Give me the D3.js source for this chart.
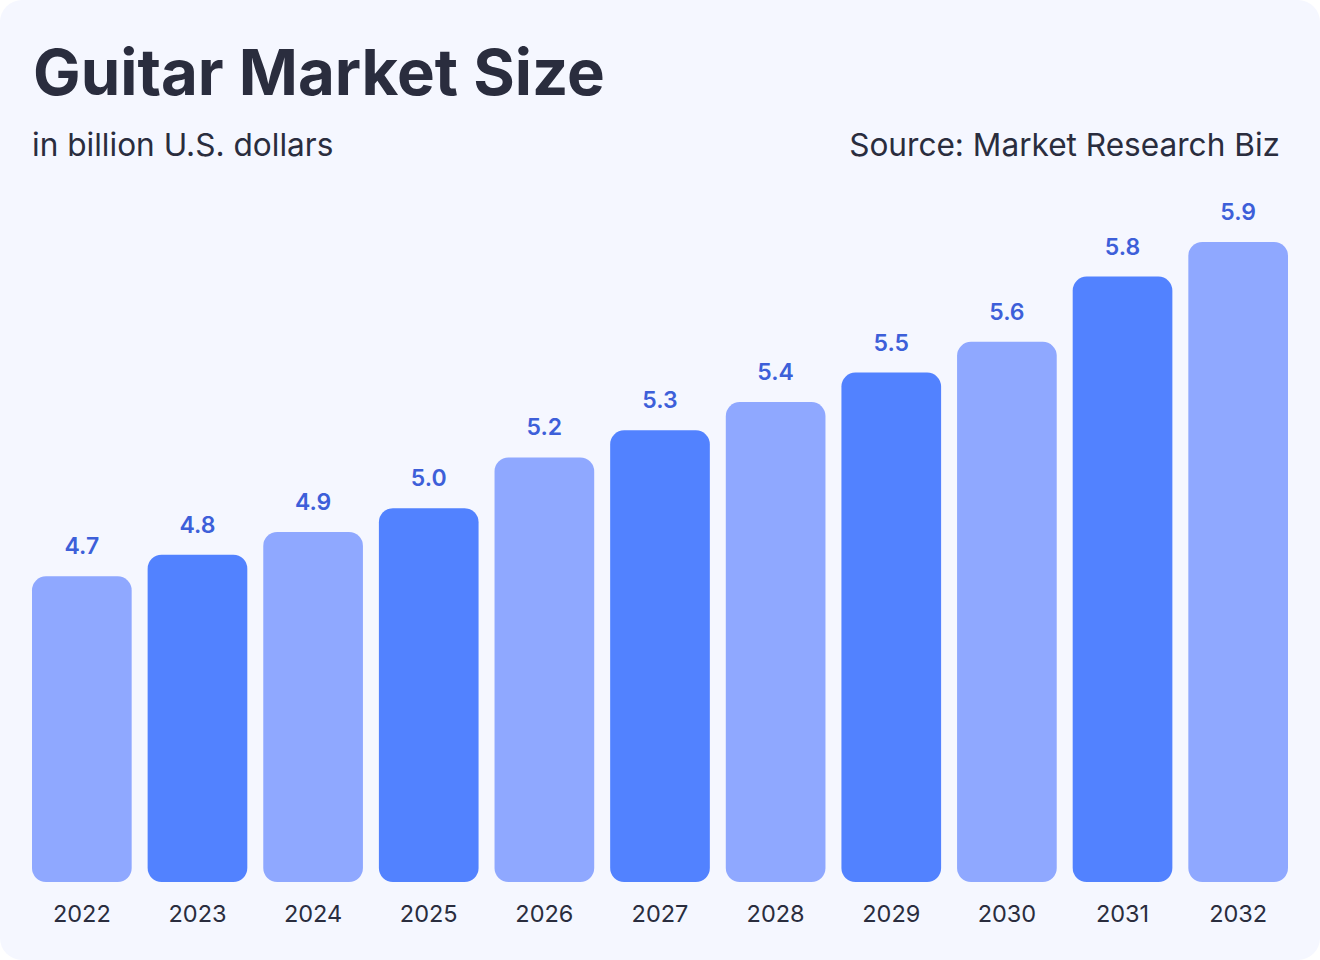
<!DOCTYPE html>
<html><head><meta charset="utf-8">
<script src="https://cdn.jsdelivr.net/npm/d3@7"></script>
<style>
html,body{margin:0;padding:0;background:#ffffff;}
svg{display:block;}
</style></head>
<body>
<svg id="chart" width="1320" height="960"></svg>
<script>
const years = ["2022","2023","2024","2025","2026","2027","2028","2029","2030","2031","2032"];
const marketSize = [4.7,4.8,4.9,5.0,5.2,5.3,5.4,5.5,5.6,5.8,5.9];
const barColors = ["#8fa8ff","#5282ff"];

const W = 1320, H = 960;
const svg = d3.select("#chart");
const font = "Inter, 'Noto Sans', sans-serif";

svg.append("rect").attr("x",0).attr("y",0).attr("width",W).attr("height",H)
  .attr("rx",22).attr("fill","#f5f7ff");

svg.append("text").attr("x",33).attr("y",95).attr("font-family",font)
  .attr("font-size",63.5).attr("font-weight",700).attr("fill","#2a2d3e")
  .text("Guitar Market Size");
svg.append("text").attr("x",32).attr("y",156).attr("font-family",font)
  .attr("font-size",31.6).attr("fill","#2a2d3e").text("in billion U.S. dollars");
svg.append("text").attr("x",1280).attr("y",156).attr("font-family",font)
  .attr("font-size",31.6).attr("fill","#2a2d3e").attr("text-anchor","end")
  .text("Source: Market Research Biz");

const x = d3.scaleBand().domain(years).range([32,1288]).paddingInner(0.138).paddingOuter(0);
const baseY = 882;
const y = d3.scalePow().exponent(3.25).domain([0, d3.max(marketSize)]).range([baseY, 242]);

const g = svg.append("g");
g.selectAll("rect.bar").data(marketSize).join("rect").attr("class","bar")
  .attr("x",(d,i)=>x(years[i])).attr("width",x.bandwidth())
  .attr("y",d=>y(d)).attr("height",d=>baseY-y(d))
  .attr("rx",14).attr("fill",(d,i)=>barColors[i%2]);

g.selectAll("text.val").data(marketSize).join("text").attr("class","val")
  .attr("x",(d,i)=>x(years[i])+x.bandwidth()/2).attr("y",d=>y(d)-22)
  .attr("text-anchor","middle").attr("font-family",font).attr("font-size",23)
  .attr("font-weight",600).attr("fill","#3d5fd9").text(d=>d.toFixed(1));

const xAxis = d3.axisBottom(x).tickSize(0).tickPadding(0);
const ax = svg.append("g").attr("transform",`translate(0,${baseY})`).call(xAxis);
ax.select(".domain").remove();
ax.selectAll("text").attr("font-family",font).attr("font-size",23.5)
  .attr("fill","#2a2d3e").attr("dy",0).attr("y",40).attr("font-weight",400);
</script>
</body></html>
